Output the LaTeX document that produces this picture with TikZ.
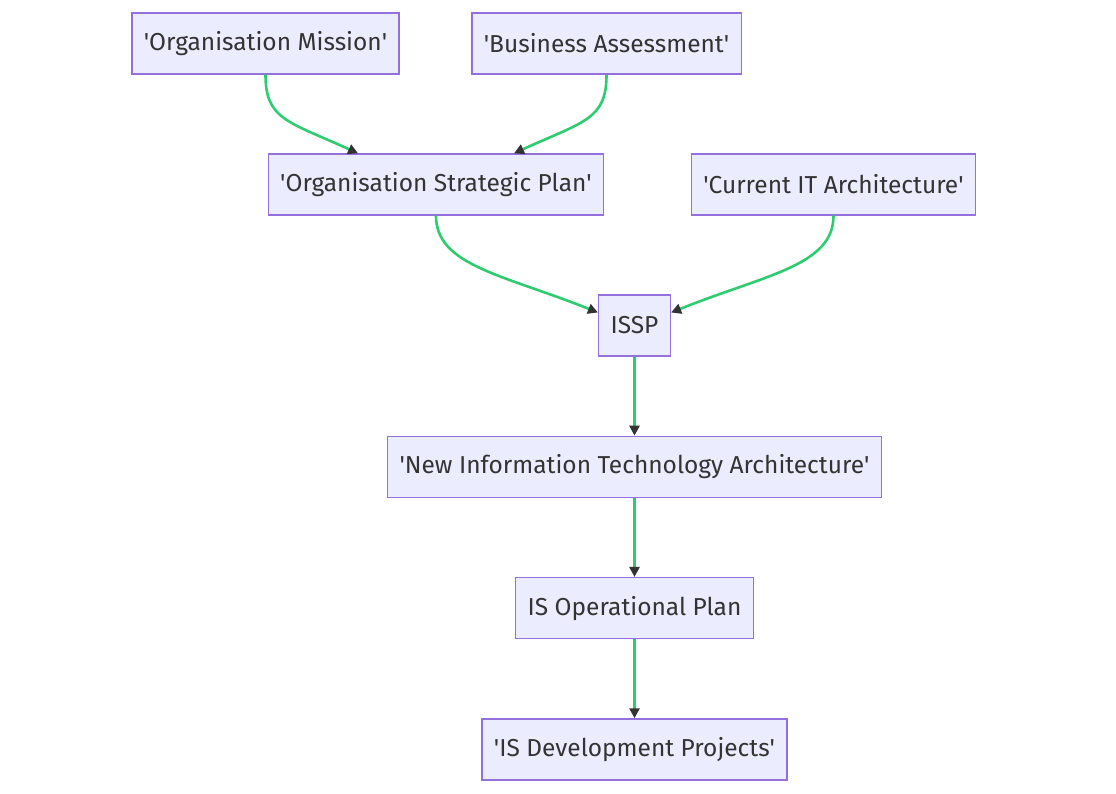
\documentclass[tikz,border=0pt]{standalone}
\usepackage{fontspec}
\setmainfont{Fira Sans}
\usepackage{xcolor}
\usetikzlibrary{positioning,arrows.meta}

\definecolor{boxfill}{HTML}{ECECFF}
\definecolor{boxline}{HTML}{9370DB}
\definecolor{edgegreen}{HTML}{2ECC71}
\definecolor{textgrey}{HTML}{333333}

\newcommand{\sq}{\textquotesingle}

\begin{document}
\begin{tikzpicture}[x=1pt, y=1pt, node distance=79pt]
	% Define styles for boxes and arrows
	\tikzset{
		box/.style={
			rectangle,
			draw=boxline,
			fill=boxfill,
			line width=1.3pt,
			minimum height=61pt,
			inner xsep=12pt,
			text=textgrey,
			font=\fontsize{24.5}{29}\selectfont,
			text centered
		},
		flow/.style={
			draw=edgegreen,
			line width=2.6pt,
			-{Triangle[length=10pt, width=10pt, color=textgrey]}
		}
	}
	\useasboundingbox (0,0) rectangle (1116,-793);
	
	% Top row
	\node[box] (orgMission) at (265.5,-43.5) {\sq Organisation Mission\sq};
	\node[box] (busAssess) at (606.5,-43.5) {\sq Business Assessment\sq};
	
	% Second row
	\node[box] (orgPlan) at (436,-184.5) {\sq Organisation Strategic Plan\sq};
	\node[box] (curIT) at (833.5,-184.5) {\sq Current IT Architecture\sq};
	
	% Main column
	\node[box] (issp) at (634.5,-325.5) {ISSP};
	\node[box, below=of issp] (newITArch) {\sq New Information Technology Architecture\sq};
	\node[box, below=of newITArch] (isOpPlan) {IS Operational Plan};
	\node[box, below=of isOpPlan] (isDevProj) {\sq IS Development Projects\sq};
	
	% Curved arrows into the plans
	\draw[flow] (orgMission.south) .. controls +(0,-45) and +(-70,32) .. ([xshift=-78pt]orgPlan.north);
	\draw[flow] (busAssess.south) .. controls +(0,-45) and +(70,32) .. ([xshift=78pt]orgPlan.north);
	\draw[flow] (orgPlan.south) .. controls +(0,-50) and +(-95,38) .. ([yshift=13pt]issp.west);
	\draw[flow] (curIT.south) .. controls +(0,-50) and +(95,38) .. ([yshift=13pt]issp.east);
	
	% Straight arrows down the column
	\draw[flow] (issp) -- (newITArch);
	\draw[flow] (newITArch) -- (isOpPlan);
	\draw[flow] (isOpPlan) -- (isDevProj);
\end{tikzpicture}
\end{document}
